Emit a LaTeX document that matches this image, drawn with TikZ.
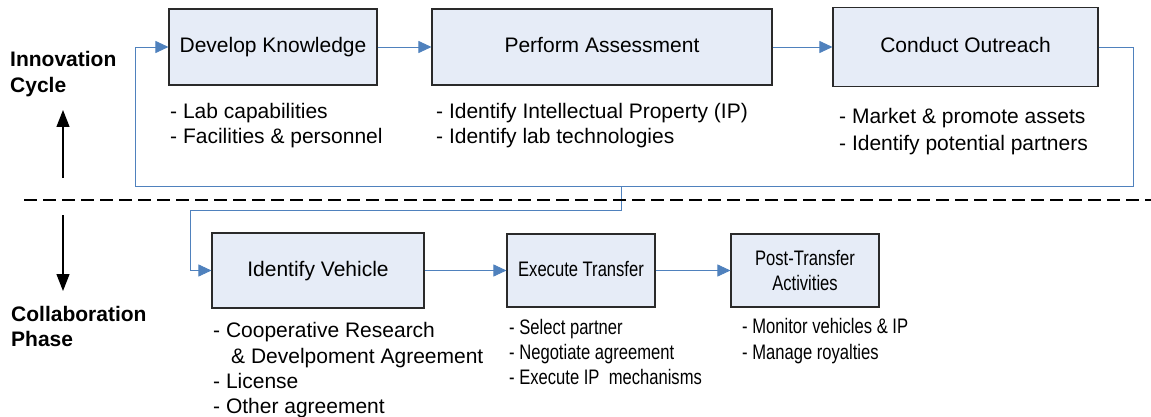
\documentclass[tikz,border=0pt]{standalone}
\usepackage{fontspec}
\usepackage{graphicx}
\setmainfont{Liberation Sans}
\newcommand{\narrowtext}[1]{\scalebox{0.79}[1]{#1}}
\usetikzlibrary{arrows.meta}
\definecolor{boxfill}{HTML}{E6ECF7}
\definecolor{flowblue}{HTML}{4F81BD}
\definecolor{boxline}{HTML}{2A2A2A}
\tikzset{
  stage/.style={draw=boxline, line width=1.1pt, fill=boxfill, inner sep=0pt, font=\fontsize{21}{25.5}\selectfont},
  oneline/.style={text height=15pt, text depth=4pt},
  item/.style={anchor=base west, inner sep=0pt, font=\fontsize{21}{25.5}\selectfont},
  phase/.style={anchor=base west, inner sep=0pt, font=\fontsize{21}{25.5}\selectfont\bfseries},
  flow/.style={draw=flowblue, line width=0.9pt},
  flowarrow/.style={flow, -{Triangle[length=13pt,width=12pt]}},
  bigarrow/.style={draw=black, line width=1.3pt, -{Triangle[length=17pt,width=13pt]}}
}
\begin{document}
\begin{tikzpicture}[x=1pt,y=-1pt]
\useasboundingbox (0,0) rectangle (1151,417);
% stage boxes
\node[stage, oneline, minimum width=208pt, minimum height=76pt] (dk) at (273,47) {Develop Knowledge};
\node[stage, oneline, minimum width=340pt, minimum height=76pt] (pa) at (602,47) {Perform Assessment};
\node[stage, oneline, minimum width=265pt, minimum height=79pt] (co) at (965.5,47) {Conduct Outreach};
\node[stage, oneline, minimum width=212pt, minimum height=75pt] (iv) at (318,270.5) {Identify Vehicle};
\node[stage, oneline, minimum width=148pt, minimum height=73pt] (et) at (581,270.5) {\narrowtext{Execute Transfer}};
\node[stage, align=center, minimum width=148pt, minimum height=73pt] (pt) at (805,270.5) {\narrowtext{Post-Transfer}\\\narrowtext{Activities}};
% free-end coordinates of the connectors
\coordinate (r1) at (1133,186);
\coordinate (l1) at (135,186);
\coordinate (b0) at (621,186);
\coordinate (b1) at (190,210);
% connectors
\draw[flowarrow] (dk.east) -- (pa.west);
\draw[flowarrow] (pa.east) -- (co.west);
\draw[flowarrow] (co.east) -| (r1) -- (l1) |- (dk.west);
\draw[flowarrow] (b0) |- (b1) |- (iv.west);
\draw[flowarrow] (iv.east) -- (et.west);
\draw[flowarrow] (et.east) -- (pt.west);
% separator
\coordinate (d0) at (24,200);
\coordinate (d1) at (1151,200);
\draw[line width=1.3pt, dash pattern=on 13pt off 6pt] (d0) -- (d1);
% phase arrows
\coordinate (u0) at (63,178);
\coordinate (u1) at (63,110);
\coordinate (w0) at (63,215);
\coordinate (w1) at (63,291);
\draw[bigarrow] (u0) -- (u1);
\draw[bigarrow] (w0) -- (w1);
% phase labels
\node[phase] (ic1) at (10,67) {Innovation};
\node[phase] (ic2) at (10,93) {Cycle};
\node[phase] (cp1) at (11,321) {Collaboration};
\node[phase] (cp2) at (11,346) {Phase};
% item lists
\node[item] (dk1) at (170,119) {- Lab capabilities};
\node[item] (dk2) at (170,144) {- Facilities \& personnel};
\node[item] (pa1) at (436,119) {- Identify Intellectual Property (IP)};
\node[item] (pa2) at (436,144) {- Identify lab technologies};
\node[item] (co1) at (839,124) {- Market \& promote assets};
\node[item] (co2) at (839,150) {- Identify potential partners};
\node[item] (iv1) at (213,337) {- Cooperative Research};
\node[item] (iv2) at (231,363) {\& Develpoment Agreement};
\node[item] (iv3) at (213,388) {- License};
\node[item] (iv4) at (213,413) {- Other agreement};
\node[item] (et1) at (509,334) {\narrowtext{- Select partner}};
\node[item] (et2) at (509,359) {\narrowtext{- Negotiate agreement}};
\node[item] (et3) at (509,384) {\narrowtext{- Execute IP\ \ mechanisms}};
\node[item] (pt1) at (742,333) {\narrowtext{- Monitor vehicles \& IP}};
\node[item] (pt2) at (742,359) {\narrowtext{- Manage royalties}};
\end{tikzpicture}
\end{document}
